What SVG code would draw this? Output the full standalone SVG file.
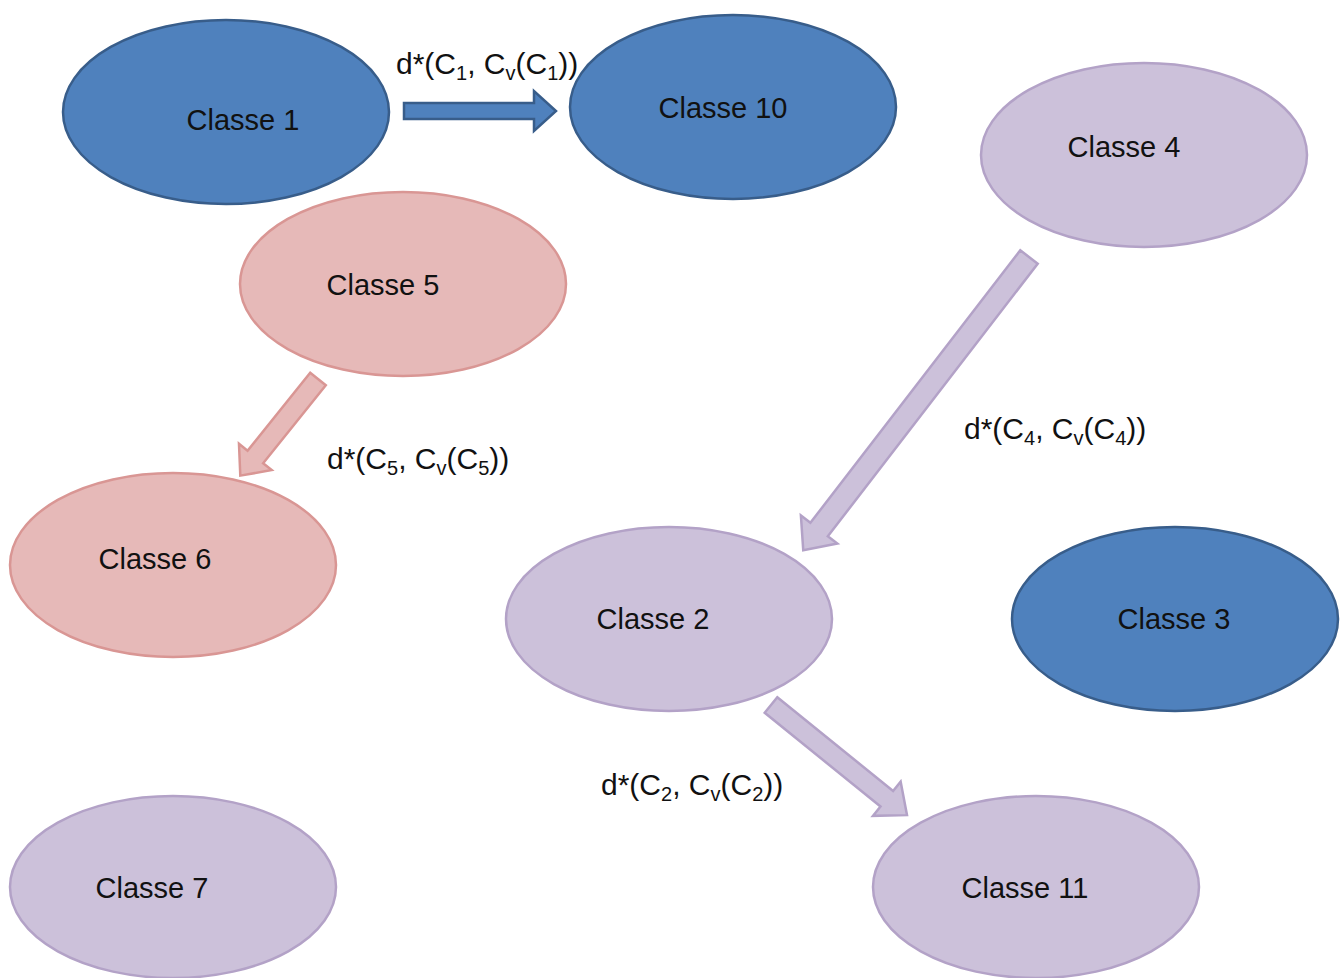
<svg xmlns="http://www.w3.org/2000/svg" width="1344" height="978" viewBox="0 0 1344 978">
<style>
.blue{fill:#4F81BD;stroke:#385D8A;stroke-width:2.5}
.pink{fill:#E6B9B8;stroke:#D99694;stroke-width:2.5}
.lav{fill:#CCC1DA;stroke:#B3A2C7;stroke-width:2.5}
.nt{font-family:"Liberation Sans",Arial,sans-serif;font-size:29px;fill:#111;text-anchor:middle}
.lb{font-family:"Liberation Sans",Arial,sans-serif;font-size:30px;fill:#111}
.sub{font-size:20px}
</style>
<rect width="1344" height="978" fill="#fff"/>
<g id="connectors">
<g id="e1-10"><polygon class="blue" transform="translate(404,111)" points="0,-8 130,-8 130,-20 152,0 130,20 130,8 0,8"/></g>
<g id="e5-6"><polygon class="pink" transform="translate(318,379) rotate(128.8)" points="0,-10 100,-10 100,-21 124,0 100,21 100,10 0,10"/></g>
<g id="e4-2"><polygon class="lav" transform="translate(1029,257) rotate(127.6)" points="0,-11 344,-11 344,-23 370,0 344,23 344,11 0,11"/></g>
<g id="e2-11"><polygon class="lav" transform="translate(771,705) rotate(39)" points="0,-10 149,-10 149,-22 175,0 149,22 149,10 0,10"/></g>
<text class="lb" x="396" y="74">d*(C<tspan class="sub" dy="6">1</tspan><tspan dy="-6">, C</tspan><tspan class="sub" dy="6">v</tspan><tspan dy="-6">(C</tspan><tspan class="sub" dy="6">1</tspan><tspan dy="-6">))</tspan></text>
<text class="lb" x="327" y="469">d*(C<tspan class="sub" dy="6">5</tspan><tspan dy="-6">, C</tspan><tspan class="sub" dy="6">v</tspan><tspan dy="-6">(C</tspan><tspan class="sub" dy="6">5</tspan><tspan dy="-6">))</tspan></text>
<text class="lb" x="964" y="439">d*(C<tspan class="sub" dy="6">4</tspan><tspan dy="-6">, C</tspan><tspan class="sub" dy="6">v</tspan><tspan dy="-6">(C</tspan><tspan class="sub" dy="6">4</tspan><tspan dy="-6">))</tspan></text>
<text class="lb" x="601" y="795">d*(C<tspan class="sub" dy="6">2</tspan><tspan dy="-6">, C</tspan><tspan class="sub" dy="6">v</tspan><tspan dy="-6">(C</tspan><tspan class="sub" dy="6">2</tspan><tspan dy="-6">))</tspan></text>
</g>
<g id="classe1"><ellipse class="blue" cx="226" cy="112" rx="163" ry="92"/><text class="nt" x="243" y="130">Classe 1</text></g>
<g id="classe10"><ellipse class="blue" cx="733" cy="107" rx="163" ry="92"/><text class="nt" x="723" y="118">Classe 10</text></g>
<g id="classe4"><ellipse class="lav" cx="1144" cy="155" rx="163" ry="92"/><text class="nt" x="1124" y="157">Classe 4</text></g>
<g id="classe5"><ellipse class="pink" cx="403" cy="284" rx="163" ry="92"/><text class="nt" x="383" y="295">Classe 5</text></g>
<g id="classe6"><ellipse class="pink" cx="173" cy="565" rx="163" ry="92"/><text class="nt" x="155" y="569">Classe 6</text></g>
<g id="classe2"><ellipse class="lav" cx="669" cy="619" rx="163" ry="92"/><text class="nt" x="653" y="629">Classe 2</text></g>
<g id="classe3"><ellipse class="blue" cx="1175" cy="619" rx="163" ry="92"/><text class="nt" x="1174" y="629">Classe 3</text></g>
<g id="classe7"><ellipse class="lav" cx="173" cy="887" rx="163" ry="91"/><text class="nt" x="152" y="898">Classe 7</text></g>
<g id="classe11"><ellipse class="lav" cx="1036" cy="887" rx="163" ry="91"/><text class="nt" x="1025" y="898">Classe 11</text></g>
</svg>
